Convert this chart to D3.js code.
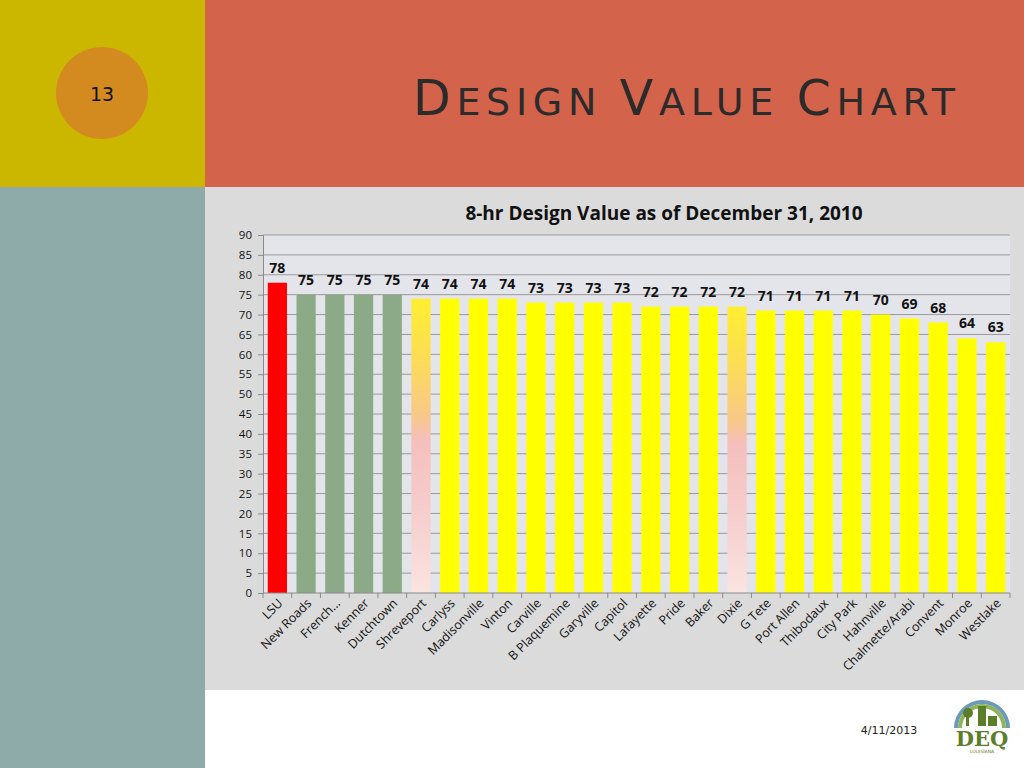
<!DOCTYPE html>
<html><head><meta charset="utf-8">
<script src="https://cdn.jsdelivr.net/npm/d3@7"></script>
<style>body{margin:0;background:#fff;}svg{display:block;}</style>
</head><body>
<svg id="c" width="1024" height="768"></svg>
<script>
const categories = ["LSU","New Roads","French…","Kenner","Dutchtown","Shreveport","Carlyss","Madisonville","Vinton","Carville","B Plaquemine","Garyville","Capitol","Lafayette","Pride","Baker","Dixie","G Tete","Port Allen","Thibodaux","City Park","Hahnville","Chalmette/Arabi","Convent","Monroe","Westlake"];
const values = [78,75,75,75,75,74,74,74,74,73,73,73,73,72,72,72,72,71,71,71,71,70,69,68,64,63];
const fillKind = ["red","green","green","green","green","grad","yellow","yellow","yellow","yellow","yellow","yellow","yellow","yellow","yellow","yellow","grad","yellow","yellow","yellow","yellow","yellow","yellow","yellow","yellow","yellow"];
const yTicks = [0,5,10,15,20,25,30,35,40,45,50,55,60,65,70,75,80,85,90];
const chartTitle = "8-hr Design Value as of December 31, 2010";

const svg = d3.select("#c");
const defs = svg.append("defs");
const g = defs.append("linearGradient").attr("id","pg").attr("x1",0).attr("y1",0).attr("x2",0).attr("y2",1);
[[0,"#FFEE30"],[0.2,"#FCDD55"],[0.4,"#F7C88A"],[0.48,"#F4BFBC"],[0.75,"#F6CFCF"],[1,"#FAE4E2"]].forEach(s=>g.append("stop").attr("offset",s[0]).attr("stop-color",s[1]));

// slide background
svg.append("rect").attr("x",0).attr("y",0).attr("width",205).attr("height",187).attr("fill","#CCB700");
svg.append("rect").attr("x",205).attr("y",0).attr("width",819).attr("height",187).attr("fill","#D4634B");
svg.append("rect").attr("x",0).attr("y",187).attr("width",205).attr("height",581).attr("fill","#8EABAA");
svg.append("rect").attr("x",205).attr("y",187).attr("width",819).attr("height",503).attr("fill","#DBDBDB");
svg.append("rect").attr("x",205).attr("y",690).attr("width",819).attr("height",78).attr("fill","#FFFFFF");

svg.append("circle").attr("cx",102).attr("cy",93).attr("r",46).attr("fill","#D38B20");
svg.append("text").attr("x",102).attr("y",101).attr("text-anchor","middle").attr("font-family","DejaVu Sans, sans-serif").attr("font-size",19).attr("fill","#111").text("13");

// title small caps
const tt = svg.append("text").attr("x",413).attr("y",115).attr("font-family","DejaVu Sans, sans-serif").attr("fill","#2b2b2b").attr("letter-spacing","3");
[["D",49],["ESIGN ",38],["V",49],["ALUE ",38],["C",49],["HART",38]].forEach(p=>tt.append("tspan").attr("font-size",p[1]).text(p[0]));
tt.attr("textLength",545).attr("lengthAdjust","spacing");

// chart
const m = {l:263, r:1010, t:235, b:593};
const x = d3.scaleBand().domain(categories).range([m.l,m.r]).paddingInner(0.33).paddingOuter(0.165);
const y = d3.scaleLinear().domain([0,90]).range([m.b,m.t]);

svg.append("rect").attr("x",m.l).attr("y",m.t).attr("width",m.r-m.l).attr("height",m.b-m.t).attr("fill","#E4E4EB");
svg.append("g").selectAll("line").data(yTicks.filter(d=>d>0)).join("line")
  .attr("x1",m.l).attr("x2",m.r).attr("y1",d=>y(d)).attr("y2",d=>y(d)).attr("stroke","#9A9A9A").attr("stroke-width",1);

svg.append("text").attr("x",664).attr("y",220).attr("text-anchor","middle").attr("font-family","Open Sans, sans-serif").attr("font-weight","bold").attr("font-size",19).attr("fill","#111").text(chartTitle);

const colorOf = k => k==="red"?"#FF0000":k==="green"?"#8DAA88":k==="yellow"?"#FFFF00":"url(#pg)";
svg.append("g").selectAll("rect").data(categories).join("rect")
  .attr("x",d=>x(d)).attr("width",x.bandwidth())
  .attr("y",(d,i)=>y(values[i])).attr("height",(d,i)=>y(0)-y(values[i]))
  .attr("fill",(d,i)=>colorOf(fillKind[i]));

svg.append("g").selectAll("text").data(categories).join("text")
  .attr("x",d=>x(d)+x.bandwidth()/2).attr("y",(d,i)=>y(values[i])-10)
  .attr("text-anchor","middle").attr("font-family","Open Sans, sans-serif").attr("font-weight","bold").attr("font-size",14).attr("fill","#111")
  .text((d,i)=>values[i]);

// y axis
const ya = svg.append("g").attr("transform",`translate(${m.l},0)`).call(d3.axisLeft(y).tickValues(yTicks).tickSize(5).tickPadding(6));
ya.select(".domain").attr("stroke","#8A8A8A");
ya.selectAll(".tick line").attr("stroke","#8A8A8A");
ya.selectAll("text").attr("font-family","Open Sans, sans-serif").attr("font-size",11.5).attr("fill","#111");

// x axis
const step = x.step();
const xa = svg.append("g");
xa.append("line").attr("x1",m.l).attr("x2",m.r).attr("y1",m.b).attr("y2",m.b).attr("stroke","#8A8A8A");
xa.selectAll("line.t").data(d3.range(categories.length+1)).join("line").attr("class","t")
  .attr("x1",i=>m.l+i*step).attr("x2",i=>m.l+i*step).attr("y1",m.b).attr("y2",m.b+5).attr("stroke","#8A8A8A");
xa.selectAll("text").data(categories).join("text")
  .attr("transform",d=>`translate(${x(d)+x.bandwidth()/2+6},${m.b+11}) rotate(-45)`)
  .attr("text-anchor","end").attr("font-family","Open Sans, sans-serif").attr("font-size",12.5).attr("fill","#111").text(d=>d);

// footer
svg.append("text").attr("x",889).attr("y",734).attr("text-anchor","middle").attr("font-family","DejaVu Sans, sans-serif").attr("font-size",11).attr("fill","#222").text("4/11/2013");

// logo
const lg = svg.append("g").attr("transform","translate(982,728)");
lg.append("path").attr("d",d3.arc()({innerRadius:24,outerRadius:28,startAngle:-Math.PI/2,endAngle:Math.PI/2})).attr("fill","#6A9AB8");
lg.append("path").attr("d",d3.arc()({innerRadius:20,outerRadius:24,startAngle:-Math.PI/2,endAngle:Math.PI/2})).attr("fill","#8FB45A");
lg.append("rect").attr("x",-4).attr("y",-22).attr("width",8).attr("height",20).attr("fill","#5C7D2A");
lg.append("rect").attr("x",6).attr("y",-12).attr("width",9).attr("height",10).attr("fill","#5C7D2A");
lg.append("rect").attr("x",-16).attr("y",-14).attr("width",3).attr("height",12).attr("fill","#5C7D2A");
lg.append("circle").attr("cx",-14).attr("cy",-15).attr("r",5).attr("fill","#5C7D2A");
lg.append("text").attr("x",0).attr("y",18).attr("text-anchor","middle").attr("font-family","DejaVu Serif, serif").attr("font-weight","bold").attr("font-size",21).attr("fill","#5C7D2A").text("DEQ");
lg.append("text").attr("x",0).attr("y",25).attr("text-anchor","middle").attr("font-family","DejaVu Sans, sans-serif").attr("font-size",4.5).attr("fill","#5C7D2A").text("LOUISIANA");
</script>
</body></html>
